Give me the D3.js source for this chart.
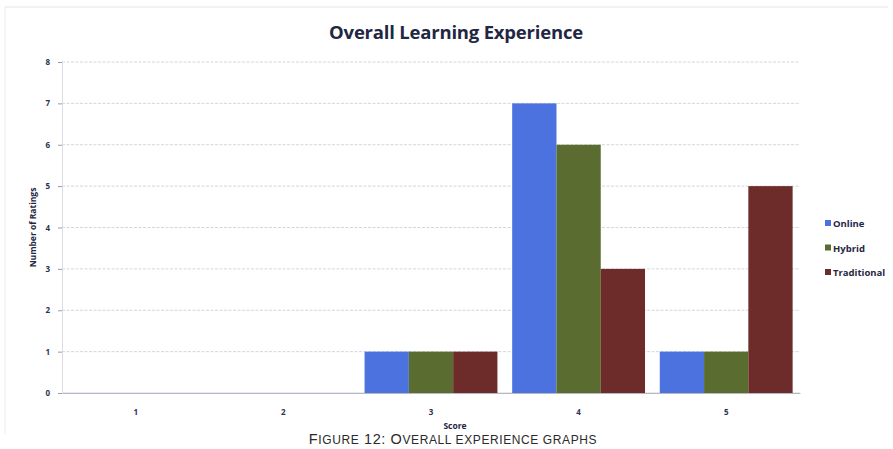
<!DOCTYPE html>
<html>
<head>
<meta charset="utf-8">
<script src="https://cdn.jsdelivr.net/npm/d3@7"></script>
<style>
  html, body { margin: 0; padding: 0; background: #ffffff; }
  svg { display: block; }
  text { font-family: "Open Sans", "Noto Sans", sans-serif; }
</style>
</head>
<body>
<svg id="chart" width="893" height="449"></svg>
<script>
// Ratings per score, grouped by course format
const scores = ["1", "2", "3", "4", "5"];
const seriesNames = ["Online", "Hybrid", "Traditional"];
const online = [0, 0, 1, 7, 1];
const hybrid = [0, 0, 1, 6, 1];
const traditional = [0, 0, 1, 3, 5];
const yTicks = [0, 1, 2, 3, 4, 5, 6, 7, 8];
const colors = ["#4b72df", "#5a6c2f", "#6d2b29"];

const seriesValues = [online, hybrid, traditional];
const rows = scores.map((s, i) => ({
  score: s,
  values: seriesNames.map((n, k) => ({ name: n, value: seriesValues[k][i], color: colors[k] }))
}));

const svg = d3.select("#chart");
const W = 893, H = 449;
const m = { left: 62, right: 93, top: 62, bottom: 56 };
const plotW = W - m.left - m.right;
const plotH = H - m.top - m.bottom;

// faint frame around the chart
svg.append("line").attr("x1", 5).attr("x2", W - 5).attr("y1", 7).attr("y2", 7)
  .attr("stroke", "#e4e4ec").attr("stroke-width", 1);
svg.append("line").attr("x1", 5).attr("x2", 5).attr("y1", 7).attr("y2", 434)
  .attr("stroke", "#ececf0").attr("stroke-width", 1);

const g = svg.append("g").attr("transform", `translate(${m.left},${m.top})`);

const x0 = d3.scaleBand().domain(scores).range([0, plotW]).paddingInner(0.1).paddingOuter(0.05);
const x1 = d3.scaleBand().domain(seriesNames).range([0, x0.bandwidth()]).padding(0);
const y = d3.scaleLinear().domain([0, 8]).range([plotH, 0]);

// horizontal gridlines
g.append("g")
  .selectAll("line")
  .data(yTicks)
  .join("line")
  .attr("x1", 0).attr("x2", plotW)
  .attr("y1", d => y(d)).attr("y2", d => y(d))
  .attr("stroke", "#c9cbd6")
  .attr("stroke-width", 0.8)
  .attr("stroke-dasharray", d => d === 0 ? null : "3,1.5");

// y axis
const yAxis = g.append("g")
  .call(d3.axisLeft(y).tickValues(yTicks).tickSize(4).tickPadding(8).tickFormat(d3.format("d")));
yAxis.select(".domain").attr("stroke", "#dcdce4");
yAxis.selectAll(".tick line").attr("stroke", "#9a9aa8");
yAxis.selectAll("text")
  .attr("fill", "#2b3350")
  .style("font-size", "8px")
  .style("font-weight", "700");

// bars
const groups = g.append("g")
  .selectAll("g")
  .data(rows)
  .join("g")
  .attr("transform", d => `translate(${x0(d.score)},0)`);

groups.selectAll("rect")
  .data(d => d.values)
  .join("rect")
  .attr("x", d => x1(d.name))
  .attr("width", x1.bandwidth())
  .attr("y", d => y(d.value))
  .attr("height", d => plotH - y(d.value))
  .attr("fill", d => d.color);

// x axis
const xAxis = g.append("g")
  .attr("transform", `translate(0,${plotH})`)
  .call(d3.axisBottom(x0).tickSize(0).tickPadding(16));
xAxis.select(".domain").attr("stroke", "#b8b8c4");
xAxis.selectAll("text")
  .attr("fill", "#2b3350")
  .style("font-size", "8px")
  .style("font-weight", "700");

// title
svg.append("text")
  .attr("x", 456).attr("y", 39)
  .attr("text-anchor", "middle")
  .attr("fill", "#1f2742")
  .style("font-size", "18.5px")
  .style("font-weight", "700")
  .style("letter-spacing", "-0.2px")
  .text("Overall Learning Experience");

// axis titles
svg.append("text")
  .attr("x", m.left + plotW / 2 + 24).attr("y", 429)
  .attr("text-anchor", "middle")
  .attr("fill", "#1f2742")
  .style("font-size", "8.5px")
  .style("font-weight", "700")
  .text("Score");

svg.append("text")
  .attr("transform", `translate(36,${m.top + plotH / 2}) rotate(-90)`)
  .attr("text-anchor", "middle")
  .attr("fill", "#1f2742")
  .style("font-size", "8.5px")
  .style("font-weight", "700")
  .text("Number of Ratings");

// legend
const legend = svg.append("g").attr("transform", "translate(825,220)");
const li = legend.selectAll("g")
  .data(seriesNames)
  .join("g")
  .attr("transform", (d, i) => `translate(0,${i * 24.5})`);
li.append("rect").attr("width", 6).attr("height", 6).attr("fill", (d, i) => colors[i]);
li.append("text")
  .attr("x", 8).attr("y", 7)
  .attr("fill", "#1f2742")
  .style("font-size", "9.5px")
  .style("font-weight", "700")
  .text(d => d);

// figure caption below the chart, set in small capitals
const captionWords = ["Figure", "12:", "Overall", "experience", "graphs"];
const caption = svg.append("text")
  .attr("x", 453).attr("y", 444)
  .attr("text-anchor", "middle")
  .attr("fill", "#2a2a2a")
  .style("font-family", "'Liberation Sans', Arial, sans-serif")
  .style("letter-spacing", "0.6px");
captionWords.forEach((w, i) => {
  const first = w[0];
  const rest = w.slice(1);
  const isCap = first === first.toUpperCase();
  caption.append("tspan")
    .style("font-size", isCap ? "14.5px" : "12px")
    .text((i > 0 ? " " : "") + first.toUpperCase());
  if (rest) {
    caption.append("tspan")
      .style("font-size", /^\d/.test(first) ? "14.5px" : "12px")
      .text(rest.toUpperCase());
  }
});
</script>
</body>
</html>
